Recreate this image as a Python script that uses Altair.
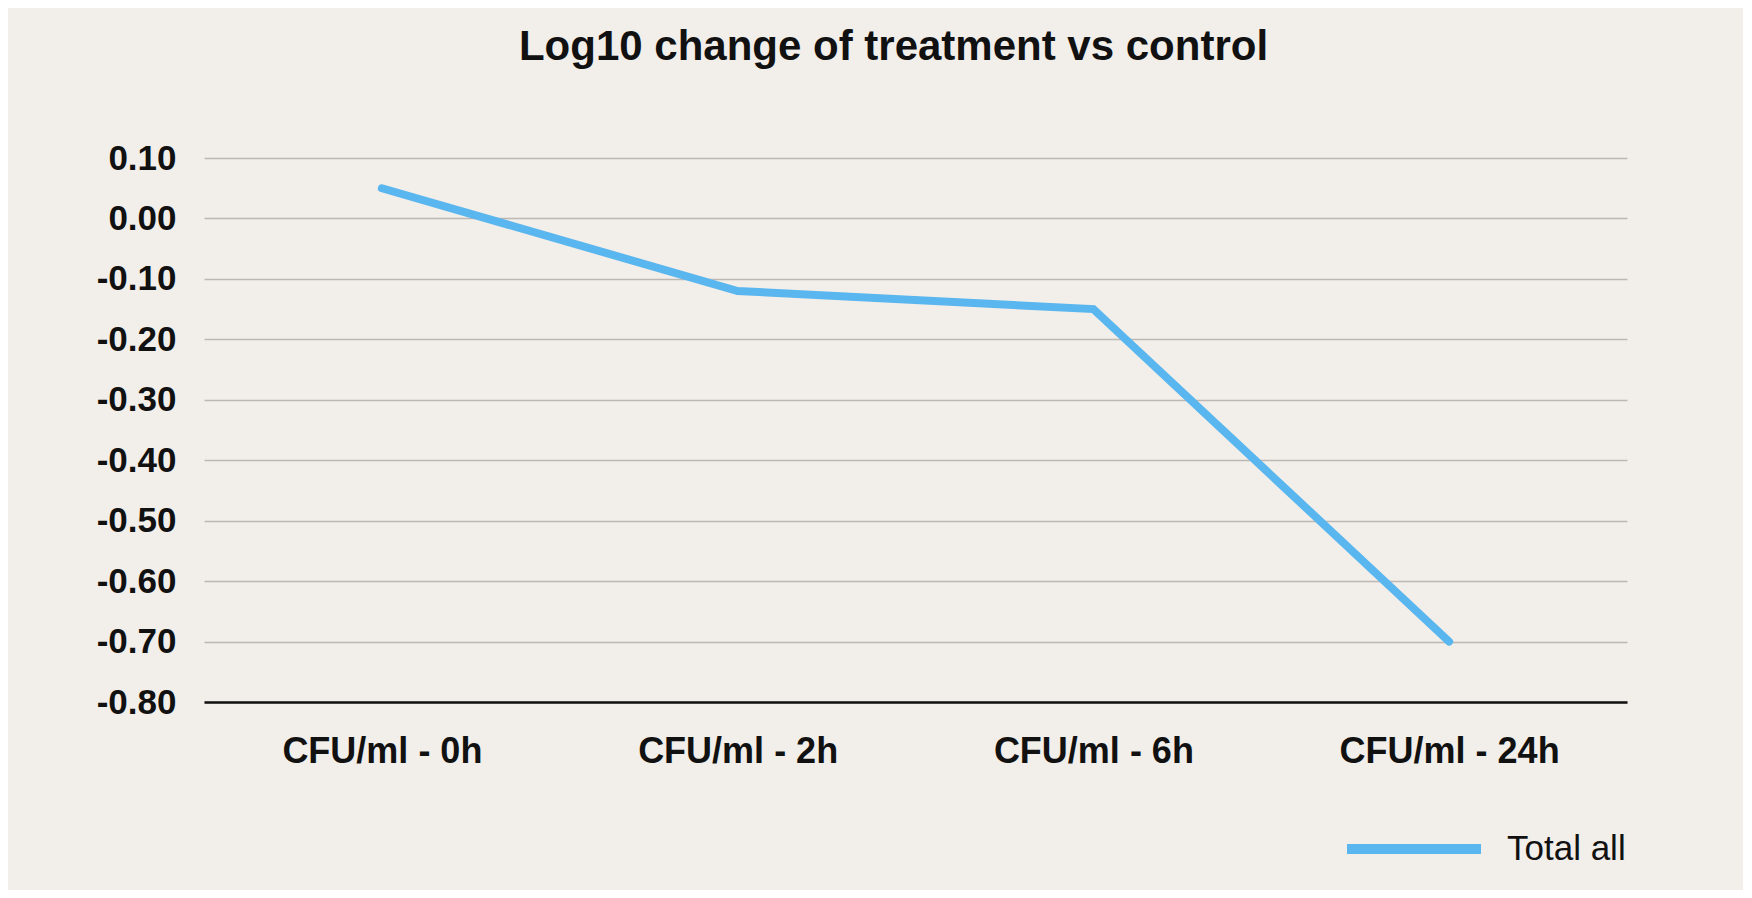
import altair as alt
import pandas as pd

# values
categories = ["CFU/ml - 0h", "CFU/ml - 2h", "CFU/ml - 6h", "CFU/ml - 24h"]
log10_change = [0.05, -0.12, -0.15, -0.70]
series_name = ["Total all"] * 4
y_ticks = [0.1, 0.0, -0.1, -0.2, -0.3, -0.4, -0.5, -0.6, -0.7, -0.8]

df = pd.DataFrame({"time": categories, "change": log10_change, "series": series_name})

FONT = "Liberation Sans"
BG = "#F2EEEA"
BLUE = "#5AB6EE"

y_label = ("datum.value < -0.0001 ? '-' + format(abs(datum.value), '.2f')"
           " : format(abs(datum.value), '.2f')")

chart = alt.Chart(df).mark_line(strokeWidth=8, strokeCap="round").encode(
    x=alt.X("time:N", sort=categories,
            scale=alt.Scale(type="point", padding=0.5),
            axis=alt.Axis(title=None, labelAngle=0, labelFont=FONT,
                          labelFontSize=36, labelFontWeight="bold",
                          labelColor="#111111", labelPadding=32,
                          labelLimit=0,
                          ticks=False, grid=False, domain=True,
                          domainColor="#111111", domainWidth=2.5)),
    y=alt.Y("change:Q",
            scale=alt.Scale(domain=[-0.8, 0.1], nice=False, zero=False),
            axis=alt.Axis(title=None, values=y_ticks, labelExpr=y_label,
                          labelFont=FONT, labelFontSize=35,
                          labelFontWeight="bold", labelColor="#111111",
                          labelPadding=28, ticks=False, domain=False,
                          grid=True, gridColor="#BDB8B4", gridWidth=1.5)),
    color=alt.Color("series:N",
                    scale=alt.Scale(range=[BLUE]),
                    legend=alt.Legend(title=None, orient="none",
                                      legendX=1138, legendY=619,
                                      symbolType="stroke", symbolSize=17956,
                                      symbolStrokeWidth=10, labelFont=FONT,
                                      labelFontSize=35, labelColor="#111111",
                                      labelOffset=21, padding=0)),
).properties(
    width=1423,
    height=544,
    title=alt.TitleParams("Log10 change of treatment vs control",
                          font=FONT, fontSize=42, fontWeight="bold",
                          color="#111111", anchor="middle", dx=-22, offset=72),
    autosize=alt.AutoSizeParams(type="none"),
    padding={"left": 196, "top": 150, "right": 116, "bottom": 188},
    background=BG,
).configure_view(stroke=None)

chart.save("out.html", embed_options={"renderer": "svg", "actions": False})
